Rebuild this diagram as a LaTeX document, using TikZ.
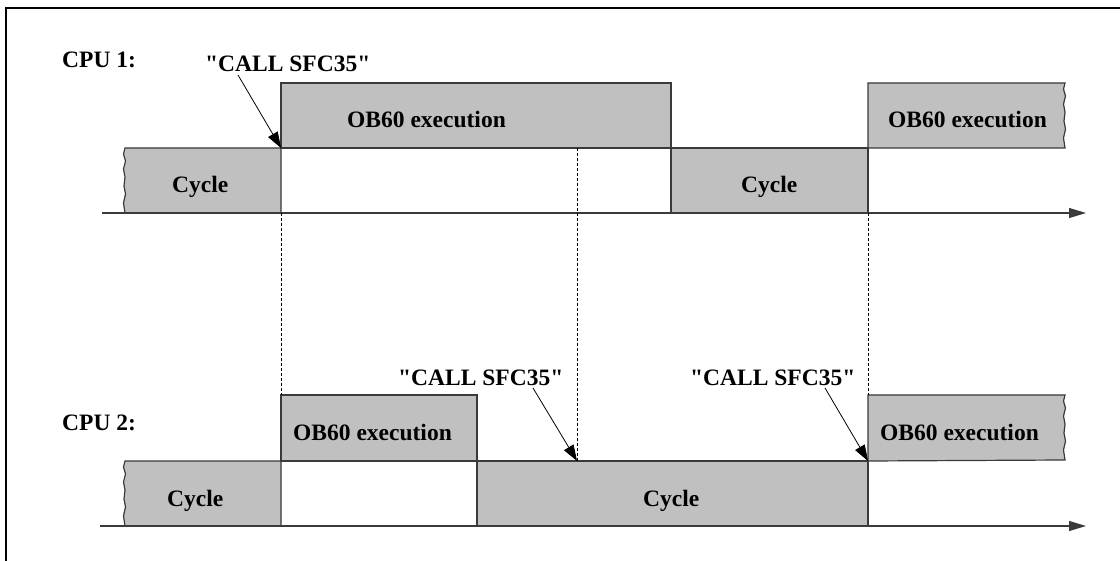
\documentclass[tikz,border=0pt]{standalone}
\usepackage{fontspec}
\setmainfont{Liberation Serif}[Ligatures=TeXOff]
\usetikzlibrary{arrows.meta,calc}
\definecolor{boxgray}{HTML}{C0C0C0}
\definecolor{edgegray}{HTML}{3A3A3A}
\def\wavydown{-- ++(-1.5,6) -- ++(2,7) -- ++(-2,8) -- ++(1.5,8) -- ++(-1,9) -- ++(1.5,8) -- ++(-2,9) -- ++(1.5,10)}
\begin{document}
\begin{tikzpicture}[x=1pt,y=-1pt,
  lbl/.style={font=\fontsize{23.5}{28}\selectfont\bfseries, inner sep=0pt, anchor=base west},
  box/.style={fill=boxgray, draw=edgegray, line width=1.2pt, line join=miter},
  axisline/.style={draw=edgegray, line width=1.1pt, -{Triangle[length=17pt,width=10pt]}},
  callarrow/.style={draw=black, line width=0.8pt, -{Triangle[length=16pt,width=11pt]}},
  guide/.style={draw=black, line width=0.7pt, dash pattern=on 3pt off 2pt},
  frame/.style={draw=black, line width=1.4pt}
]
\useasboundingbox (0,0) rectangle (1120,561);
\fill[white] (0,0) rectangle (1120,561);
\draw[frame] (1120,8) -- (6,8) -- (6,561);

% ---------- CPU 1 ----------
\draw[box] (281,148) -- (125,148) \wavydown -- (281,213) -- cycle;
\draw[box] (281,83) rectangle (671,148);
\draw[box] (671,148) rectangle (868,213);
\draw[box] (868,83) -- (1065,83) \wavydown -- (868,148) -- cycle;

\coordinate (a1s) at (102,213);
\coordinate (a1e) at (1086,213);
\draw[axisline] (a1s) -- (a1e);

% ---------- CPU 2 ----------
\draw[box] (281,461) -- (125,461) \wavydown -- (281,526) -- cycle;
\draw[box] (281,395) rectangle (477,461);
\draw[box] (477,461) rectangle (868,526);
\draw[box] (868,395) -- (1065,395) \wavydown -- (868,461) -- cycle;

\coordinate (a2s) at (100,526);
\coordinate (a2e) at (1086,526);
\draw[axisline] (a2s) -- (a2e);

% ---------- guides ----------
\coordinate (g1t) at (281,213); \coordinate (g1b) at (281,395);
\coordinate (g2t) at (577,148); \coordinate (g2b) at (577,461);
\coordinate (g3t) at (868,213); \coordinate (g3b) at (868,395);
\draw[guide] (g1t) -- (g1b);
\draw[guide] (g2t) -- (g2b);
\draw[guide] (g3t) -- (g3b);

% ---------- labels ----------
\node[lbl] (cpu1) at (62,68) {CPU 1:};
\node[lbl] (call1) at (205,72) {"CALL SFC35"};
\node[lbl] (obA) at (347,128) {OB60 execution};
\node[lbl] (obB) at (888,128) {OB60 execution};
\node[lbl] (cycA) at (172,193) {Cycle};
\node[lbl] (cycB) at (741,193) {Cycle};

\node[lbl] (cpu2) at (62,431) {CPU 2:};
\node[lbl] (call2) at (398,386) {"CALL SFC35"};
\node[lbl] (call3) at (690,386) {"CALL SFC35"};
\node[lbl] (obC) at (293,440) {OB60 execution};
\node[lbl] (obD) at (880,440) {OB60 execution};
\node[lbl] (cycC) at (167,506) {Cycle};
\node[lbl] (cycD) at (643,506) {Cycle};

% ---------- call arrows ----------
\coordinate (t1) at (281,148);
\coordinate (t2) at (577,461);
\coordinate (t3) at (868,461);
\draw[callarrow] ($(call1.base west)+(33,3)$) -- (t1);
\draw[callarrow] ($(call2.base west)+(135,2)$) -- (t2);
\draw[callarrow] ($(call3.base west)+(135,2)$) -- (t3);
\end{tikzpicture}
\end{document}
